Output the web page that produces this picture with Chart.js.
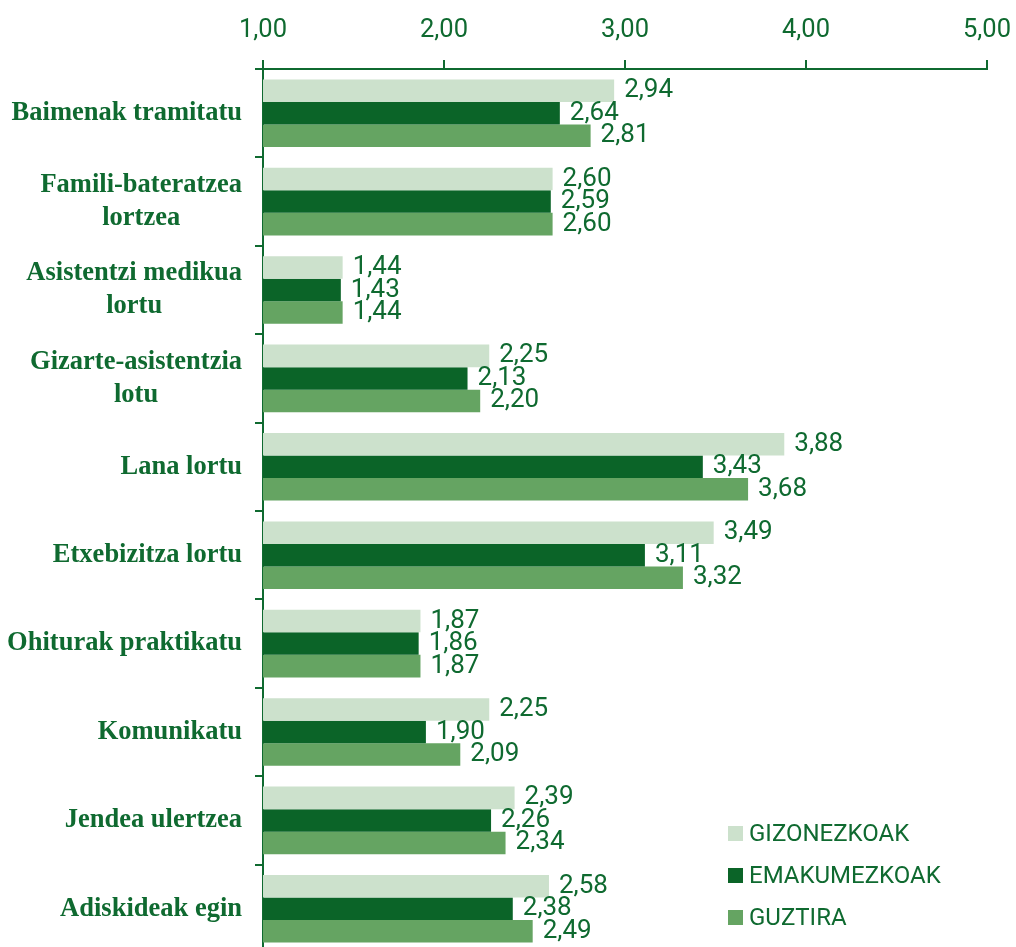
<!DOCTYPE html>
<html lang="eu">
<head>
<meta charset="utf-8">
<title>Zailtasunak</title>
<script src="https://cdn.jsdelivr.net/npm/chart.js@4.4.1/dist/chart.umd.min.js"></script>
<style>
    html, body { margin: 0; padding: 0; background: #fff; overflow: hidden; }
    #wrap { position: relative; width: 1016px; height: 954px; }
    #legenda { position: absolute; left: 728px; top: 812px; font-family: Roboto, sans-serif; font-size: 24px; color: #0F6A30; }
    #legenda .item { display: flex; align-items: center; height: 42px; }
    #legenda .kolore { width: 15px; height: 15px; margin-right: 6px; }
</style>
</head>
<body>
<div id="wrap">
    <canvas id="grafikoa"></canvas>
    <div id="legenda"></div>
</div>
<script>
// --- DATUAK ---
const kategoriak = [
    'Baimenak tramitatu',
    ['Famili-bateratzea', 'lortzea'],
    ['Asistentzi medikua', 'lortu'],
    ['Gizarte-asistentzia', 'lotu'],
    'Lana lortu',
    'Etxebizitza lortu',
    'Ohiturak praktikatu',
    'Komunikatu',
    'Jendea ulertzea',
    'Adiskideak egin'
];
const gizonezkoak = [2.94, 2.60, 1.44, 2.25, 3.88, 3.49, 1.87, 2.25, 2.39, 2.58];
const emakumezkoak = [2.64, 2.59, 1.43, 2.13, 3.43, 3.11, 1.86, 1.90, 2.26, 2.38];
const guztira = [2.81, 2.60, 1.44, 2.20, 3.68, 3.32, 1.87, 2.09, 2.34, 2.49];
const serieIzenak = ['GIZONEZKOAK', 'EMAKUMEZKOAK', 'GUZTIRA'];
const koloreak = ['#CCE1CC', '#0B6428', '#65A462'];
const ardatzTikak = [1, 2, 3, 4, 5];

const berdea = '#0F6A30';
const koma = v => Number(v).toFixed(2).replace('.', ',');

// --- ETIKETAK (kategoriak eta balioak) ---
const kategoriaEtiketak = {
    id: 'kategoriaEtiketak',
    afterDraw(chart) {
        const { ctx } = chart;
        const y = chart.scales.y;
        ctx.save();
        ctx.font = 'bold 26.5px "Liberation Serif", serif';
        ctx.fillStyle = berdea;
        ctx.textAlign = 'center';
        ctx.textBaseline = 'middle';
        kategoriak.forEach((lab, i) => {
            const lerroak = Array.isArray(lab) ? lab : [lab];
            const zabalera = Math.max(...lerroak.map(l => ctx.measureText(l).width));
            const cx = y.right - 21 - zabalera / 2;
            const cy = y.getPixelForValue(i);
            lerroak.forEach((l, j) => ctx.fillText(l, cx, cy + (j - (lerroak.length - 1) / 2) * 33));
        });
        ctx.restore();
    }
};

const balioEtiketak = {
    id: 'balioEtiketak',
    afterDatasetsDraw(chart) {
        const { ctx } = chart;
        ctx.save();
        ctx.font = '26px Roboto, sans-serif';
        ctx.fillStyle = berdea;
        ctx.textAlign = 'left';
        ctx.textBaseline = 'middle';
        chart.data.datasets.forEach((ds, d) => {
            chart.getDatasetMeta(d).data.forEach((bar, i) => {
                ctx.fillText(koma(ds.data[i]), bar.x + 10, bar.y);
            });
        });
        ctx.restore();
    }
};

// --- GRAFIKOA ---
const ctx = document.getElementById('grafikoa').getContext('2d');
new Chart(ctx, {
    type: 'bar',
    data: {
        labels: kategoriak,
        datasets: [
            { label: serieIzenak[0], data: gizonezkoak, backgroundColor: koloreak[0] },
            { label: serieIzenak[1], data: emakumezkoak, backgroundColor: koloreak[1] },
            { label: serieIzenak[2], data: guztira, backgroundColor: koloreak[2] }
        ]
    },
    options: {
        indexAxis: 'y',
        responsive: true, maintainAspectRatio: false,
        animation: false,
        layout: { padding: { left: 0, right: 29, top: 0, bottom: 1 } },
        datasets: { bar: { categoryPercentage: 0.765, barPercentage: 1, borderWidth: 0 } },
        plugins: { legend: { display: false }, tooltip: { enabled: false } },
        scales: {
            x: {
                position: 'top',
                min: 1, max: 5,
                afterBuildTicks: s => { s.ticks = ardatzTikak.map(v => ({ value: v })); },
                afterFit: s => { s.height = 69; s.paddingLeft = 0; s.paddingRight = 0; },
                ticks: {
                    callback: v => koma(v),
                    color: berdea,
                    font: { family: 'Roboto', size: 25.5 },
                    padding: 14
                },
                grid: { drawOnChartArea: false, color: berdea, lineWidth: 2, tickLength: 9 },
                border: { display: true, color: berdea, width: 2 }
            },
            y: {
                afterFit: s => { s.width = 263; },
                ticks: { display: false },
                grid: { offset: true, drawOnChartArea: false, color: berdea, lineWidth: 2, tickLength: 8 },
                border: { display: true, color: berdea, width: 2 }
            }
        }
    },
    plugins: [kategoriaEtiketak, balioEtiketak]
});

// --- LEGENDA ---
const legenda = document.getElementById('legenda');
serieIzenak.forEach((izena, i) => {
    const item = document.createElement('div');
    item.className = 'item';
    item.innerHTML = `<span class="kolore" style="background:${koloreak[i]}"></span><span>${izena}</span>`;
    legenda.appendChild(item);
});
</script>
</body>
</html>
